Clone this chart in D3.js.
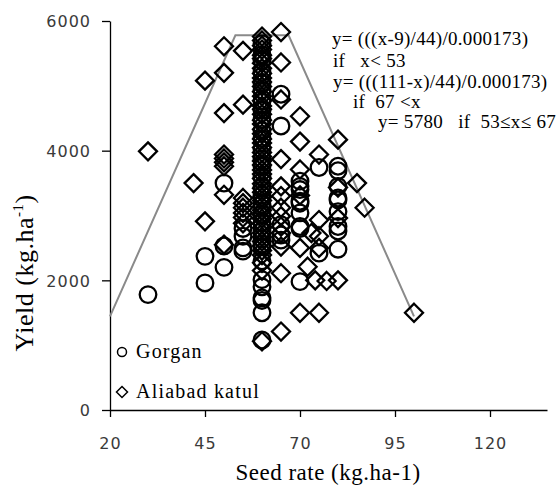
<!DOCTYPE html>
<html lang="en">
<head>
<meta charset="utf-8">
<title>Seed rate and yield</title>
<style>
  body{margin:0;background:white;}
  svg{display:block;}
  .tick text{font-family:"DejaVu Sans",sans-serif;font-size:16px;fill:#3a3a3a;letter-spacing:1px;}
  .serif{font-family:"Liberation Serif","Times New Roman",serif;fill:#000;white-space:pre;}
</style>
<script src="https://d3js.org/d3.v7.min.js"></script>
</head>
<body>
<script>
// Gorgan points [seed rate, yield]
let gorgan = [
  [30,1780],
  [45,2370],[45,1960],
  [50,3500],[50,2530],[50,2200],
  [55,2800],[55,2680],[55,2500],[55,2450],
  [60,5650],[60,5480],[60,5390],[60,5210],[60,5040],[60,4930],[60,4760],[60,4620],
  [60,4480],[60,4310],[60,4190],[60,4020],[60,3870],[60,3760],[60,3590],[60,3440],
  [60,3310],[60,3170],[60,3020],[60,2890],[60,2760],[60,2640],[60,2560],[60,2520],
  [60,2300],[60,2010],[60,1900],[60,1730],[60,1690],[60,1500],[60,1080],
  [65,4870],[65,4380],[65,2860],[65,2700],[65,2620],
  [70,3530],[70,3450],[70,3400],[70,3220],[70,3190],[70,3040],[70,2830],[70,2800],[70,1980],
  [75,3740],[75,2420],
  [80,3760],[80,3690],[80,3450],[80,3270],[80,3240],[80,3060],[80,2830],[80,2760],[80,2480]
]

// Aliabad katul points [seed rate, yield]
let aliabad = [
  [30,3990],[42,3500],
  [45,5080],[45,2910],
  [50,5610],[50,5200],[50,4580],[50,3940],[50,3880],[50,3820],[50,3760],[50,3320],[50,2550],
  [55,5540],[55,4710],[55,3270],[55,3190],[55,3120],[55,3040],[55,2970],[55,2880],
  [60,5760],[60,5700],[60,5620],[60,5560],[60,5470],[60,5420],[60,5350],[60,5270],
  [60,5190],[60,5120],[60,5060],[60,4990],[60,4910],[60,4840],[60,4770],[60,4690],
  [60,4640],[60,4560],[60,4470],[60,4410],[60,4330],[60,4260],[60,4180],[60,4120],
  [60,4050],[60,3970],[60,3910],[60,3840],[60,3780],[60,3700],[60,3640],[60,3570],
  [60,3490],[60,3420],[60,3360],[60,3280],[60,3230],[60,3140],[60,3080],[60,3010],
  [60,2950],[60,2870],[60,2810],[60,2730],[60,2670],[60,2600],[60,2530],[60,2460],
  [60,2390],[60,2270],[60,2150],[60,1060],
  [65,5830],[65,5360],[65,4790],[65,3870],[65,3450],[65,3300],[65,3120],[65,2990],
  [65,2830],[65,2730],[65,2520],[65,2110],[65,1210],
  [70,4530],[70,4140],[70,3710],[70,3310],[70,2500],[72,2210],[70,1500],
  [73,2730],
  [75,3940],[75,2930],[75,2680],[75,2500],[74,2000],[75,1500],
  [77,1990],
  [80,4170],[80,3430],[80,2960],[80,2000],
  [85,3500],[87,3120],[100,1500]
]

// fitted plateau line
let fitSeed = [20, 53, 67, 100]
let fitYield = [1445, 5780, 5780, 1445]

let xTicks = [20, 45, 70, 95, 120]
let yTicks = [0, 2000, 4000, 6000]

let equation = [
  "y= (((x-9)/44)/0.000173)",
  "if   x< 53",
  "y= (((111-x)/44)/0.000173)",
  "if  67 <x",
  "y= 5780   if  53\u2264x\u2264 67"
]

let width = 557
let height = 487
let plotLeft = 110, plotRight = 547, plotTop = 21, plotBottom = 410

let svg = d3.select("body").append("svg")
            .attr("width", width)
            .attr("height", height)

let xScale = d3.scaleLinear().domain([20, 135]).range([plotLeft, plotRight])
let yScale = d3.scaleLinear().domain([0, 6000]).range([plotBottom, plotTop])

// axes
let xAxis = svg.append("g")
               .attr("transform", `translate(0, ${plotBottom})`)
               .call(d3.axisBottom(xScale).tickValues(xTicks).tickSize(7).tickSizeOuter(0))
xAxis.selectAll("text").attr("y", 39).attr("dy", 0)

let yAxis = svg.append("g")
               .attr("transform", `translate(${plotLeft}, 0)`)
               .call(d3.axisLeft(yScale).tickValues(yTicks).tickFormat(d3.format("d")).tickSize(8).tickSizeOuter(0))
yAxis.selectAll("text").attr("x", -19).attr("dy", "0.36em")

svg.selectAll(".domain, .tick line").attr("stroke", "#000").attr("stroke-width", 1.3)

// fit line
let line = d3.line().x(d => xScale(d[0])).y(d => yScale(d[1]))
svg.append("path")
   .datum(fitSeed.map((s, i) => [s, fitYield[i]]))
   .attr("d", line)
   .attr("fill", "none")
   .attr("stroke", "#8a8a8a")
   .attr("stroke-width", 2)

let diamond = (s) => `M0,${-s}L${s},0L0,${s}L${-s},0Z`

svg.append("g").selectAll("path")
   .data(aliabad)
   .enter()
   .append("path")
   .attr("d", diamond(9))
   .attr("transform", d => `translate(${xScale(d[0])},${yScale(d[1])})`)
   .attr("fill", "none")
   .attr("stroke", "#000")
   .attr("stroke-width", 2.3)

svg.append("g").selectAll("circle")
   .data(gorgan)
   .enter()
   .append("circle")
   .attr("cx", d => xScale(d[0]))
   .attr("cy", d => yScale(d[1]))
   .attr("r", 8.3)
   .attr("fill", "none")
   .attr("stroke", "#000")
   .attr("stroke-width", 2.3)

// equation text
let eqX = [332, 333, 333, 353, 378]
let eqY = [45, 67, 88, 108, 128]
svg.append("g").selectAll("text")
   .data(equation)
   .enter()
   .append("text")
   .attr("class", "serif")
   .attr("x", (d, i) => eqX[i])
   .attr("y", (d, i) => eqY[i])
   .attr("font-size", 19)
   .attr("letter-spacing", 0.3)
   .text(d => d)

// legend
svg.append("circle").attr("cx", 122).attr("cy", 352).attr("r", 4.5)
   .attr("fill", "none").attr("stroke", "#000").attr("stroke-width", 1.5)
svg.append("path").attr("d", diamond(5.5)).attr("transform", "translate(122,392)")
   .attr("fill", "none").attr("stroke", "#000").attr("stroke-width", 1.5)
svg.append("text").attr("class", "serif").attr("x", 136).attr("y", 358)
   .attr("font-size", 20).attr("letter-spacing", 1.2).text("Gorgan")
svg.append("text").attr("class", "serif").attr("x", 136).attr("y", 398)
   .attr("font-size", 20).attr("letter-spacing", 1.2).text("Aliabad katul")

// axis titles
svg.append("text").attr("class", "serif")
   .attr("x", 328).attr("y", 480)
   .attr("text-anchor", "middle")
   .attr("font-size", 23)
   .attr("letter-spacing", 0.5)
   .text("Seed rate (kg.ha-1)")

let yTitle = svg.append("text").attr("class", "serif")
   .attr("transform", "translate(33, 273) rotate(-90)")
   .attr("text-anchor", "middle")
   .attr("font-size", 26)
   .attr("letter-spacing", 0.5)
yTitle.append("tspan").text("Yield (kg.ha")
yTitle.append("tspan").attr("font-size", 15).attr("dy", -10).text("-1")
yTitle.append("tspan").attr("dy", 10).text(")")
</script>
</body>
</html>
